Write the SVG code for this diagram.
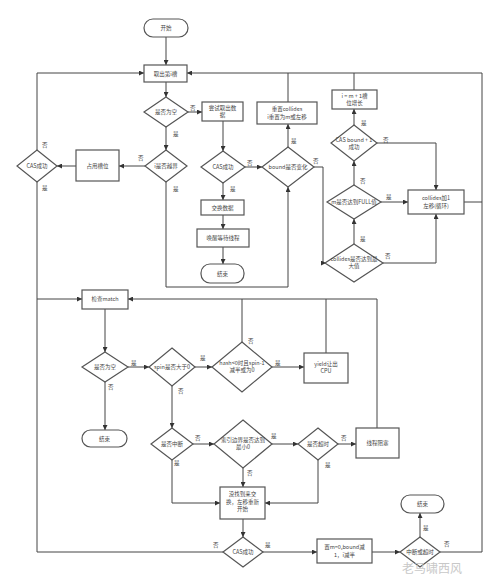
<svg xmlns="http://www.w3.org/2000/svg" width="492" height="579" viewBox="0 0 492 579">
<defs>
<marker id="ah" viewBox="0 0 10 10" refX="10" refY="5" markerWidth="5" markerHeight="5" orient="auto" markerUnits="userSpaceOnUse">
<path d="M0,0 L10,5 L0,10 z" fill="#333"/>
</marker>
<style>
.n rect,.n polygon{fill:#fff;stroke:#555;stroke-width:1.2}
.n text{font-family:"Noto Sans CJK SC","Liberation Sans",sans-serif;font-size:5.5px;fill:#444;text-anchor:middle}
#connectors path{fill:none;stroke:#444;stroke-width:1}
#connectors path.a{marker-end:url(#ah)}
.lb{font-family:"Noto Sans CJK SC","Liberation Sans",sans-serif;font-size:5.5px;fill:#444}
.wm{font-family:"Noto Sans CJK SC",sans-serif;font-size:12px;fill:#c8c8c8}
</style>
</defs>
<rect width="492" height="579" fill="#fff"/>
<g id="connectors">
<path class="a" d="M166,37 V65"/>
<path class="a" d="M166,82 V97"/>
<path class="a" d="M188,112 H202"/>
<path class="a" d="M166,127 V150"/>
<path class="a" d="M145,166 H119"/>
<path class="a" d="M76,166 H57"/>
<path class="a" d="M37,150 V73 H144"/>
<path class="a" d="M37,182 V299 H82"/>
<path class="a" d="M166,182 V287 H288 V187"/>
<path class="a" d="M223,121 V151"/>
<path class="a" d="M245,167 H262"/>
<path class="a" d="M223,183 V200"/>
<path class="a" d="M223,215 V229"/>
<path class="a" d="M223,247 V264"/>
<path class="a" d="M288,147 V124"/>
<path d="M288,102 V73"/>
<path class="a" d="M440,552 H482 V73 H187"/>
<path d="M464,202 H482"/>
<path d="M354,90 V73"/>
<path class="a" d="M314,167 H323 V263 H326"/>
<path class="a" d="M354,244 V219"/>
<path class="a" d="M383,263 H436 V214"/>
<path class="a" d="M381,202 H408"/>
<path class="a" d="M354,185 V161"/>
<path class="a" d="M377,143 H436 V190"/>
<path class="a" d="M354,125 V109"/>
<path class="a" d="M105,309 V352"/>
<path class="a" d="M128,367 H149"/>
<path class="a" d="M105,382 V430"/>
<path class="a" d="M195,367 H212"/>
<path class="a" d="M172,386 V428"/>
<path d="M242,342 V299"/>
<path class="a" d="M272,367 H304"/>
<path d="M326,353 V299"/>
<path class="a" d="M377,428 V299 H128"/>
<path class="a" d="M193,444 H214"/>
<path class="a" d="M172,460 V503 H220"/>
<path class="a" d="M272,444 H298"/>
<path class="a" d="M243,468 V487"/>
<path class="a" d="M338,444 H356"/>
<path class="a" d="M318,460 V503 H265"/>
<path class="a" d="M243,519 V537"/>
<path d="M223,552 H37 V299"/>
<path class="a" d="M263,552 H317"/>
<path class="a" d="M372,552 H400"/>
<path class="a" d="M420,537 V513"/>
</g>
<g id="labels">
<text class="lb" x="190" y="110">否</text>
<text class="lb" x="173" y="136">是</text>
<text class="lb" x="138" y="160">否</text>
<text class="lb" x="42" y="147">否</text>
<text class="lb" x="42" y="190">是</text>
<text class="lb" x="173" y="191">是</text>
<text class="lb" x="247" y="165">否</text>
<text class="lb" x="230" y="191">是</text>
<text class="lb" x="291" y="143">是</text>
<text class="lb" x="313" y="163">否</text>
<text class="lb" x="360" y="241">是</text>
<text class="lb" x="385" y="258">否</text>
<text class="lb" x="386" y="199">是</text>
<text class="lb" x="360" y="183">否</text>
<text class="lb" x="383" y="142">否</text>
<text class="lb" x="361" y="125">是</text>
<text class="lb" x="131" y="365">是</text>
<text class="lb" x="108" y="389">否</text>
<text class="lb" x="200" y="360">是</text>
<text class="lb" x="178" y="393">否</text>
<text class="lb" x="248" y="343">否</text>
<text class="lb" x="275" y="365">是</text>
<text class="lb" x="195" y="440">否</text>
<text class="lb" x="174" y="465">是</text>
<text class="lb" x="271" y="438">是</text>
<text class="lb" x="247" y="475">否</text>
<text class="lb" x="341" y="440">否</text>
<text class="lb" x="325" y="467">是</text>
<text class="lb" x="213" y="547">否</text>
<text class="lb" x="265" y="547">是</text>
<text class="lb" x="423" y="530">是</text>
<text class="lb" x="444" y="546">否</text>
</g>
<g id="start" class="n"><rect x="144" y="19" width="44" height="18" rx="9"/><text x="166" y="30">开始</text></g>
<g id="take" class="n"><rect x="144" y="65" width="43" height="17"/><text x="165.5" y="75.5">取出第i槽</text></g>
<g id="empty1" class="n"><polygon points="166,97 188,112 166,127 144,112"/><text x="166" y="114">是否为空</text></g>
<g id="tryTake" class="n"><rect x="202" y="102" width="41" height="19"/><text x="222.5" y="110">尝试取出数</text><text x="222.5" y="117">据</text></g>
<g id="reset" class="n"><rect x="257" y="102" width="60" height="22"/><text x="287" y="111">重置collides</text><text x="287" y="118.5">i重置为m或左移</text></g>
<g id="inc" class="n"><rect x="332" y="90" width="45" height="19"/><text x="354.5" y="98">i = m + 1槽</text><text x="354.5" y="105">位增长</text></g>
<g id="casBound" class="n"><polygon points="354,125 377,143 354,161 331,143"/><text x="354" y="142">CAS bound + 1</text><text x="354" y="149">成功</text></g>
<g id="outOfBound" class="n"><polygon points="166,150 187,166 166,182 145,166"/><text x="166" y="168">i是否越界</text></g>
<g id="occupy" class="n"><rect x="76" y="150" width="43" height="31"/><text x="97.5" y="168">占用槽位</text></g>
<g id="casL" class="n"><polygon points="37,150 57,166 37,182 17,166"/><text x="37" y="168">CAS成功</text></g>
<g id="cas1" class="n"><polygon points="223,151 245,167 223,183 201,167"/><text x="223" y="169">CAS成功</text></g>
<g id="boundChg" class="n"><polygon points="288,147 314,167 288,187 262,167"/><text x="288" y="169">bound是否变化</text></g>
<g id="mFull" class="n"><polygon points="354,185 381,202 354,219 327,202"/><text x="354" y="204">m是否达到FULL值</text></g>
<g id="collidesInc" class="n"><rect x="408" y="190" width="56" height="24"/><text x="436" y="200">collides加1</text><text x="436" y="207.5">左移(循环)</text></g>
<g id="swap" class="n"><rect x="201" y="200" width="43" height="15"/><text x="222.5" y="209.5">交换数据</text></g>
<g id="wake" class="n"><rect x="197" y="229" width="52" height="18"/><text x="223" y="240">唤醒等待线程</text></g>
<g id="end1" class="n"><rect x="201" y="264" width="43" height="19" rx="9"/><text x="222.5" y="275.5">结束</text></g>
<g id="collMax" class="n"><polygon points="354,244 383,263 354,282 325,263"/><text x="354" y="261">collides是否达到最</text><text x="354" y="268">大值</text></g>
<g id="check" class="n"><rect x="82" y="290" width="46" height="19"/><text x="105" y="301">检查match</text></g>
<g id="empty2" class="n"><polygon points="105,352 128,367 105,382 82,367"/><text x="105" y="369">是否为空</text></g>
<g id="spin" class="n"><polygon points="172,348 195,367 172,386 149,367"/><text x="172" y="369">spin是否大于0</text></g>
<g id="hash" class="n"><polygon points="242,342 272,367 242,392 212,367"/><text x="242" y="365">hash&lt;0时且spin-1</text><text x="242" y="372">减半或为0</text></g>
<g id="yield" class="n"><rect x="304" y="353" width="44" height="30"/><text x="326" y="366">yield让出</text><text x="326" y="373">CPU</text></g>
<g id="end2" class="n"><rect x="82" y="430" width="45" height="17" rx="8.5"/><text x="104.5" y="440.5">结束</text></g>
<g id="interrupt" class="n"><polygon points="172,428 193,444 172,460 151,444"/><text x="172" y="446">是否中断</text></g>
<g id="idx" class="n"><polygon points="243,420 272,444 243,468 214,444"/><text x="243" y="442">索引边界是否达到</text><text x="243" y="449">最小0</text></g>
<g id="timeout" class="n"><polygon points="318,428 338,444 318,460 298,444"/><text x="318" y="446">是否超时</text></g>
<g id="block" class="n"><rect x="356" y="428" width="43" height="30"/><text x="377.5" y="445">线程阻塞</text></g>
<g id="retry" class="n"><rect x="220" y="487" width="45" height="32"/><text x="242.5" y="496">没找到来交</text><text x="242.5" y="503.5">换，左移重新</text><text x="242.5" y="511">开始</text></g>
<g id="cas2" class="n"><polygon points="243,537 263,552 243,567 223,552"/><text x="243" y="554">CAS成功</text></g>
<g id="reset2" class="n"><rect x="317" y="539" width="55" height="24"/><text x="344.5" y="549">置m=0,bound减</text><text x="344.5" y="556.5">1，i减半</text></g>
<g id="intr2" class="n"><polygon points="420,537 440,552 420,567 400,552"/><text x="420" y="554">中断或超时</text></g>
<g id="end3" class="n"><rect x="401" y="495" width="43" height="18" rx="9"/><text x="422.5" y="506">结束</text></g>
<text class="wm" x="402" y="573">老马啸西风</text>
</svg>
